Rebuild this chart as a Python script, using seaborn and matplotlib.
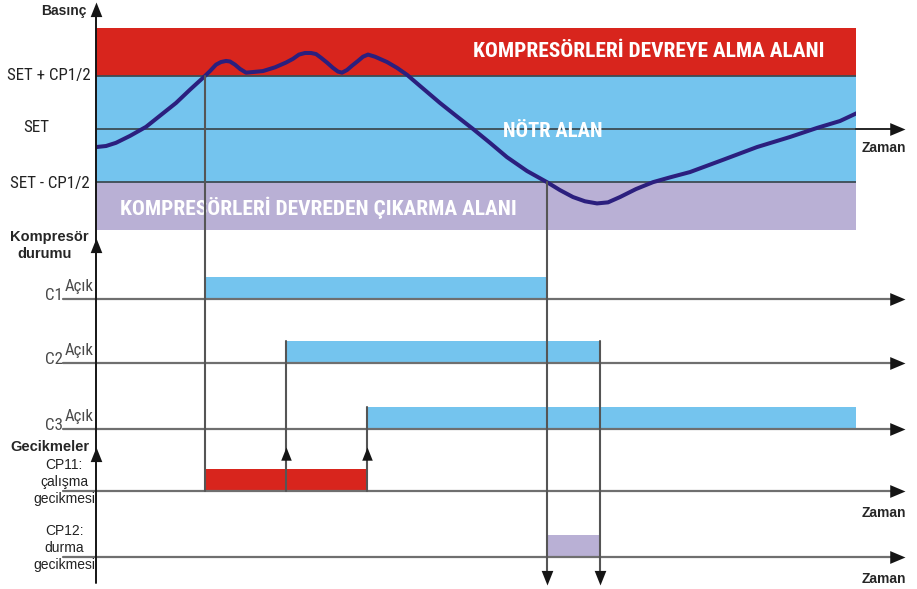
import matplotlib
matplotlib.use("Agg")
import matplotlib.pyplot as plt
from matplotlib import font_manager as fm
import numpy as np
import pandas as pd
import seaborn as sns

# ---------------- data ----------------
# pressure trace: time (s) and pressure relative to SET, in units of CP1/2
time_s = [0.0, 1.32, 2.63, 4.47, 6.58, 8.42, 10.53, 12.37, 14.21, 15.0,
          15.79, 16.45, 17.11, 17.63, 18.29, 18.95, 19.74, 20.53, 21.97,
          23.55, 25.0, 25.92, 26.71, 27.5, 28.29, 28.95, 29.61, 30.39, 31.18,
          31.84, 32.37, 33.03, 33.68, 34.47, 35.13, 35.79, 36.71, 37.5, 38.29,
          39.61, 40.92, 42.63, 45.26, 47.37, 49.61, 51.84, 54.08, 56.71,
          59.34, 61.05, 62.76, 64.34, 65.92, 67.37, 68.95, 71.05, 73.29,
          75.53, 78.16, 82.5, 86.97, 91.32, 94.87, 97.89, 100.13]
pressure = [-0.34, -0.32, -0.26, -0.13, 0.04, 0.25, 0.49, 0.74, 0.98, 1.09,
            1.21, 1.26, 1.28, 1.27, 1.21, 1.13, 1.06, 1.07, 1.09,
            1.16, 1.25, 1.32, 1.40, 1.43, 1.43, 1.41, 1.34, 1.25, 1.15,
            1.08, 1.06, 1.11, 1.19, 1.28, 1.36, 1.40, 1.36, 1.31, 1.26,
            1.15, 1.02, 0.81, 0.49, 0.25, 0.0, -0.26, -0.53, -0.79,
            -1.0, -1.15, -1.28, -1.36, -1.40, -1.38, -1.28, -1.13, -1.0,
            -0.91, -0.81, -0.58, -0.34, -0.15, 0.02, 0.15, 0.30]

level_labels = ["SET + CP1/2", "SET", "SET - CP1/2"]
level_values = [1.0, 0.0, -1.0]

zone_names = ["KOMPRESÖRLERİ DEVREYE ALMA ALANI", "NÖTR ALAN",
              "KOMPRESÖRLERİ DEVREDEN ÇIKARMA ALANI"]
zone_low = [1.0, -1.0, -1.9]
zone_high = [1.9, 1.0, -1.0]

compressors = ["C1", "C2", "C3"]
comp_on = [14.4, 25.0, 35.7]
comp_off = [59.3, 66.3, 100.0]

delay_labels = [["CP11:", "çalışma", "gecikmesi"], ["CP12:", "durma", "gecikmesi"]]
delay_start = [14.4, 59.3]
delay_end = [35.7, 66.3]

T_END = 100.0

# ---------------- style ----------------
RED = "#d8251d"
BLUE = "#74c4ee"
LILAC = "#b9b0d5"
CURVE = "#2b1f7e"
GRID = "#3c4c54"
TRACK = "#6f6f6f"
LINK = "#555555"
HEAD = "#151515"

sns.set_style("white")
plt.rcParams["font.family"] = ["Liberation Sans", "DejaVu Sans"]

# narrow sans face for the captions, when one is installed
_COND = {"ultra-condensed", "extra-condensed", "condensed", "semi-condensed"}
_cond_names = {f.name for f in fm.fontManager.ttflist if str(f.stretch) in _COND}
NARROW = next((n for n in ["Liberation Sans Narrow", "Arial Narrow",
                           "Roboto Condensed", "Open Sans Condensed",
                           "Noto Sans", "DejaVu Sans"] if n in _cond_names),
              "Liberation Sans")
NARROW_KW = dict(family=NARROW, stretch="condensed")

W, H = 917, 589
fig = plt.figure(figsize=(W / 100, H / 100), dpi=100)
renderer = fig.canvas.get_renderer()

X0, X1 = 96, 856                      # pixel columns of t = 0 and t = T_END
PANEL_TOP, PANEL_BOT = 28, 230        # pixel rows of the pressure panel


def fx(px):
    """pixel column -> time (s)"""
    return (px - X0) * T_END / (X1 - X0)


def fitted_text(axes, x, y, s, width_px, **kw):
    """place text and scale its size so it spans width_px pixels"""
    t = axes.text(x, y, s, **kw)
    w = t.get_window_extent(renderer=renderer).width
    t.set_fontsize(t.get_fontsize() * width_px / w)
    return t


# pressure panel
ax_p = fig.add_axes([X0 / W, 1 - PANEL_BOT / H, (X1 - X0) / W,
                     (PANEL_BOT - PANEL_TOP) / H])

# overlay: time on x, pixel rows on y
ax = fig.add_axes([0, 0, 1, 1], facecolor="none")
ax.set_xlim(fx(0), fx(W))
ax.set_ylim(H, 0)
ax.axis("off")

# arrowhead markers (tip at the data point)
HEADS = {
    "right": [(0, 0), (-1, 0.42), (-1, -0.42), (0, 0)],
    "up": [(0, 0), (-0.4, -1), (0.4, -1), (0, 0)],
    "down": [(0, 0), (-0.4, 1), (0.4, 1), (0, 0)],
}


def head(x, y, d, size=22):
    ax.plot([x], [y], marker=HEADS[d], ms=size, color=HEAD, mew=0,
            linestyle="none", zorder=6)


# zones
for lo, hi, c in zip(zone_low, zone_high, [RED, BLUE, LILAC]):
    ax_p.fill_between([0, T_END], lo, hi, color=c, lw=0, zorder=0)
for v in level_values:
    ax_p.plot([0, T_END], [v, v], color=GRID, lw=1.3, zorder=1)

# pressure curve
trace = pd.DataFrame({"t": time_s, "p": pressure})
sns.lineplot(data=trace, x="t", y="p", ax=ax_p, color=CURVE, lw=2.9,
             estimator=None, sort=False, zorder=3,
             solid_joinstyle="round", solid_capstyle="round")
ax_p.set_xlim(0, T_END)
ax_p.set_ylim(-1.9, 1.9)
ax_p.axis("off")

# zone captions
zone_pos = [(72.7, 1.36), (60.1, -0.15), (29.3, -1.62)]
zone_width = [353, 100, 398]
for name, (tx, py), wpx in zip(zone_names, zone_pos, zone_width):
    fitted_text(ax_p, tx, py, name, wpx, color="white", fontsize=14,
                fontweight="bold", ha="center", va="baseline", zorder=4,
                **NARROW_KW)

# SET axis extension with arrow
SET_ROW = 129
ax.plot([fx(X1), fx(897)], [SET_ROW, SET_ROW], color=HEAD, lw=1.3, zorder=2)
head(fx(905), SET_ROW, "right")

# level labels
for lab, cx, base, wpx in zip(level_labels, [48.5, 36, 50], [80, 132, 188],
                              [83, 26, 80]):
    fitted_text(ax, fx(cx), base, lab, wpx, fontsize=12, color="#222222",
                ha="center", va="baseline", **NARROW_KW)

# vertical axis
ax.plot([0, 0], [583, 10], color=HEAD, lw=1.4, zorder=5)
for tip in [2, 238, 447]:
    head(0, tip, "up", size=21)

ax.text(fx(86), 15.5, "Basınç", fontsize=10, fontweight="bold",
        ha="right", va="baseline")
ax.text(fx(49), 240.5, "Kompresör", fontsize=10.5, fontweight="bold",
        ha="center", va="baseline")
ax.text(fx(45), 258, "durumu", fontsize=10.5, fontweight="bold",
        ha="center", va="baseline")
ax.text(fx(50), 451, "Gecikmeler", fontsize=10.5, fontweight="bold",
        ha="center", va="baseline")

# compressor state rows
COMP_ROWS = [299, 363, 429]
BAR_H = 22
for name, on, off, row in zip(compressors, comp_on, comp_off, COMP_ROWS):
    ax.barh(row, off - on, left=on, height=-BAR_H, align="edge",
            color=BLUE, lw=0, zorder=2)
    ax.plot([fx(63), fx(895)], [row, row], color=TRACK, lw=1.6, zorder=3)
    head(fx(905), row, "right")
    fitted_text(ax, fx(62.5), row + 1, name, 18, fontsize=12.5,
                color="#4a4a4a", ha="right", va="baseline", **NARROW_KW)
    fitted_text(ax, fx(64.5), row - 8, "Açık", 29, fontsize=12.5,
                color="#4a4a4a", ha="left", va="baseline", **NARROW_KW)

# delay rows
DELAY_ROWS = [491, 557]
for lines, s, e, row, c in zip(delay_labels, delay_start, delay_end,
                               DELAY_ROWS, [RED, LILAC]):
    ax.barh(row, e - s, left=s, height=-BAR_H, align="edge",
            color=c, lw=0, zorder=2)
    ax.plot([fx(63), fx(895)], [row, row], color=TRACK, lw=1.6, zorder=3)
    head(fx(905), row, "right")
    ax.text(fx(884), row + 26, "Zaman", fontsize=10, fontweight="bold",
            ha="center", va="baseline")
    for k, txt in enumerate(lines):
        ax.text(fx(64), row - 22 + 17 * k, txt, fontsize=10, color="#222222",
                ha="center", va="baseline")

ax.text(fx(884), 152, "Zaman", fontsize=10, fontweight="bold",
        ha="center", va="baseline")

# event links between panels
LEVEL_HI_ROW, LEVEL_LO_ROW = 76, 182
ax.plot([comp_on[0]] * 2, [LEVEL_HI_ROW, DELAY_ROWS[0]], color=LINK, lw=1.5, zorder=4)
for t, row in zip(comp_on[1:], COMP_ROWS[1:]):
    ax.plot([t, t], [row - BAR_H, DELAY_ROWS[0]], color=LINK, lw=1.5, zorder=4)
    head(t, 447, "up", size=19)
ax.plot([comp_off[0]] * 2, [LEVEL_LO_ROW, 580], color=LINK, lw=1.5, zorder=4)
head(comp_off[0], 585, "down", size=21)
ax.plot([comp_off[1]] * 2, [COMP_ROWS[1] - BAR_H, 580], color=LINK, lw=1.5, zorder=4)
head(comp_off[1], 585, "down", size=21)

fig.savefig("out.png", dpi=100)
